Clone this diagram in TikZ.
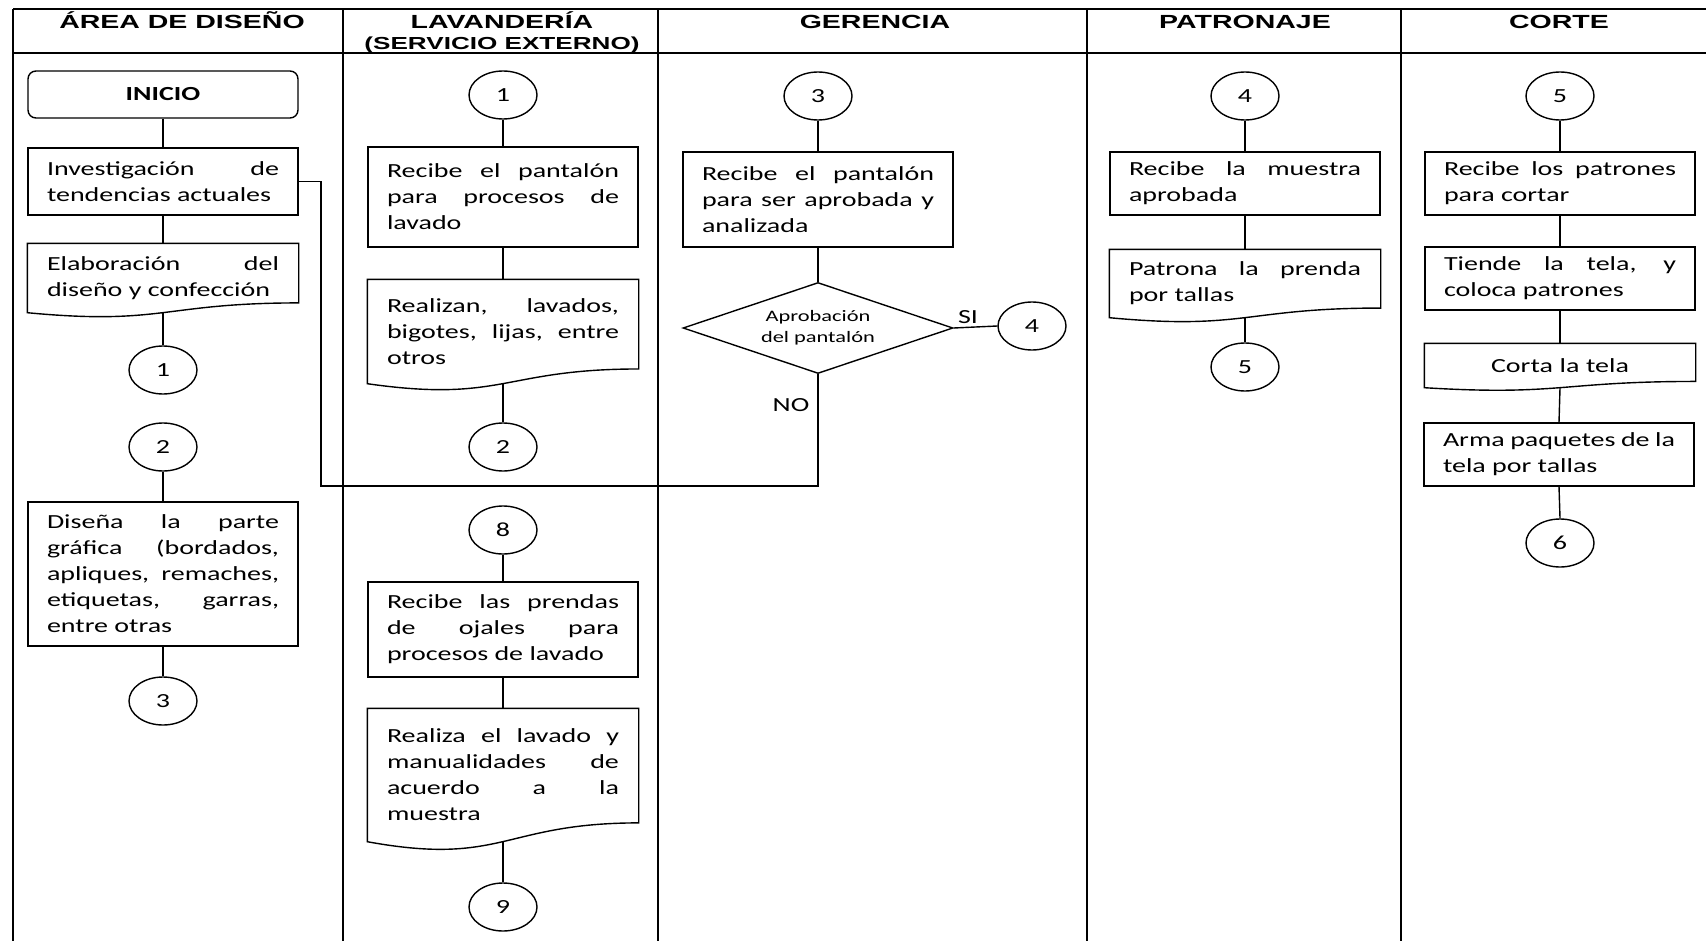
\documentclass[tikz,border=0pt]{standalone}
\usepackage{fontspec}
\setmainfont{Carlito}[FakeStretch=1.4]
\newfontfamily\hdrfont{Liberation Sans}[FakeStretch=1.5]
\usetikzlibrary{shapes.geometric}
\usetikzlibrary{calc}
\hyphenpenalty=10000
\exhyphenpenalty=10000
\tolerance=10000

\begin{document}
\begin{tikzpicture}[x=0.5pt,y=-0.5pt,line width=0.7pt]
    \tikzset{box/.style={draw,rectangle,text width=116pt,inner xsep=9.5pt,inner ysep=0pt,
                    align=justify,font=\fontsize{10}{13}\selectfont},
        docu/.style={box,draw=none},
        con/.style={draw,ellipse,minimum width=34pt,minimum height=24pt,inner sep=0pt,
                    font=\fontsize{10}{12}\selectfont},
        hdr/.style={anchor=base,inner sep=0pt,font=\hdrfont\bfseries\fontsize{9.5}{11}\selectfont}}
    \useasboundingbox (0,0) rectangle (1706,941);
    % table
    \draw[line width=1pt] (13,9) -- (1706,9) (13,53) -- (1706,53);
    \foreach \x in {13,343,658,1087,1401}
        \draw[line width=1pt] (\x,9) -- (\x,941);
    \node[hdr] (hdis) at (182,29) {ÁREA DE DISEÑO};
    \node[hdr] (hlav) at (502,29) {LAVANDERÍA};
    \node[hdr,font=\hdrfont\bfseries\fontsize{8.7}{11}\selectfont] (hser) at (502,50) {(SERVICIO EXTERNO)};
    \node[hdr] (hger) at (875,29) {GERENCIA};
    \node[hdr] (hpat) at (1245,29) {PATRONAJE};
    \node[hdr] (hcor) at (1559,29) {CORTE};

    % area de diseno
    \node[box,rounded corners=4pt,minimum height=23.5pt,align=center,font=\bfseries\fontsize{10}{13}\selectfont] (ini) at (163,94.5) {INICIO};
    \node[box,minimum height=33.5pt] (inv) at (163,181.5) {Investigación de tendencias actuales};
    \node[docu,minimum height=34pt] (elab) at (163,278) {Elaboración del diseño y confección};
    \node[con] (c1a) at (163,370) {1};
    \node[con] (c2a) at (163,447) {2};
    \node[box,minimum height=72pt] (dis) at (163,574) {Diseña la parte gráfica (bordados, apliques, remaches, etiquetas, garras, entre otras};
    \node[con] (c3a) at (163,701) {3};

    % lavanderia
    \node[con] (c1b) at (503,95) {1};
    \node[box,minimum height=50pt] (rlav) at (503,197) {Recibe el pantalón para procesos de lavado};
    \node[docu,minimum height=51.5pt] (rzn) at (503,331.5) {Realizan, lavados, bigotes, lijas, entre otros};
    \node[con] (c2b) at (503,447) {2};
    \node[con] (c8) at (503,530) {8};
    \node[box,minimum height=47.5pt] (rpre) at (503,629.5) {Recibe las prendas de ojales para procesos de lavado};
    \node[docu,minimum height=66pt] (rza) at (503,775) {Realiza el lavado y\linebreak manualidades de\linebreak acuerdo a la muestra};
    \node[con] (c9) at (503,907) {9};

    % gerencia
    \node[con] (c3b) at (818,96) {3};
    \node[box,minimum height=47.5pt] (rger) at (818,199.5) {Recibe el pantalón para ser aprobada y analizada};
    \node[draw,diamond,aspect=3,minimum width=135pt,minimum height=45.5pt,inner sep=0pt,align=center,
          font=\fontsize{8}{10.5}\selectfont] (dia) at (818,328) {Aprobación\\del pantalón};
    \node[con] (c4a) at (1032,326) {4};

    % patronaje
    \node[con] (c4b) at (1245,96) {4};
    \node[box,minimum height=31.5pt] (rmue) at (1245,183.5) {Recibe la muestra aprobada};
    \node[docu,minimum height=33.5pt] (pat) at (1245,283.5) {Patrona la prenda por tallas};
    \node[con] (c5a) at (1245,367) {5};

    % corte
    \node[con] (c5b) at (1560,96) {5};
    \node[box,minimum height=31.5pt] (rpat) at (1560,183.5) {Recibe los patrones para cortar};
    \node[box,minimum height=31.5pt] (tie) at (1560,278.5) {Tiende la tela, y coloca patrones};
    \node[docu,minimum height=21.5pt,align=center] (cor) at (1560,365.5) {Corta la tela};
    \node[box,minimum height=31.5pt] (arm) at (1559,454.5) {Arma paquetes de la tela por tallas};
    \node[con] (c6) at (1560,543) {6};

    % wavy bottoms
    \foreach \d in {elab,rzn,rza,pat,cor}
        \draw (\d.north west) -- (\d.south west)
            .. controls ($(\d.north)!1.186!(\d.south)$) and ($(\d.north)!0.859!(\d.south)$)
            .. ($(\d.north east)!0.859!(\d.south east)$) -- (\d.north east) -- cycle;

    % connectors
    \foreach \a/\b in {ini/inv,inv/elab,elab/c1a,c2a/dis,dis/c3a,
                       c1b/rlav,rlav/rzn,rzn/c2b,c8/rpre,rpre/rza,rza/c9,
                       c3b/rger,rger/dia,
                       c4b/rmue,rmue/pat,pat/c5a,
                       c5b/rpat,rpat/tie,tie/cor,cor/arm,arm/c6}
        \draw (\a.south) -- (\b.north);
    \draw (dia.east) -- node[above,pos=0.33,inner sep=1.5pt,font=\fontsize{10}{12}\selectfont] (si) {SI} (c4a.west);
    \coordinate (nob) at (818,486);
    \coordinate (nol) at (321,486);
    \draw (dia.south) -- node[left,pos=0.28,inner sep=4pt,font=\fontsize{10}{12}\selectfont] (no) {NO} (nob) -- (nol) |- (inv.east);
\end{tikzpicture}
\end{document}
